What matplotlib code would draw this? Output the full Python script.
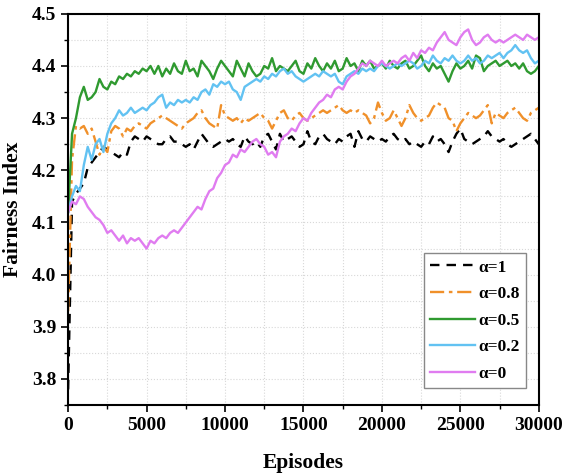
import numpy as np
import matplotlib
matplotlib.use('Agg')
import matplotlib.pyplot as plt
from matplotlib.ticker import MultipleLocator

# episodes, sampled every 250
episodes = np.arange(0, 30001, 250)

alpha_1 = [3.78, 4.14, 4.155, 4.165, 4.175, 4.205, 4.215, 4.225, 4.235, 4.245,
           4.24, 4.235, 4.23, 4.225, 4.235, 4.23, 4.255, 4.265, 4.26, 4.255,
           4.265, 4.26, 4.255, 4.25, 4.25, 4.26, 4.265, 4.255, 4.255, 4.25,
           4.245, 4.25, 4.24, 4.255, 4.27, 4.26, 4.25, 4.245, 4.25, 4.255,
           4.26, 4.255, 4.26, 4.25, 4.245, 4.265, 4.255, 4.25, 4.255, 4.245,
           4.265, 4.27, 4.255, 4.24, 4.27, 4.255, 4.26, 4.265, 4.255, 4.245,
           4.25, 4.275, 4.255, 4.25, 4.265, 4.27, 4.26, 4.255, 4.25, 4.26,
           4.255, 4.265, 4.27, 4.245, 4.275, 4.26, 4.255, 4.265, 4.26, 4.255,
           4.26, 4.255, 4.265, 4.27, 4.26, 4.255, 4.26, 4.25, 4.255, 4.25,
           4.245, 4.255, 4.25, 4.265, 4.255, 4.26, 4.25, 4.235, 4.255, 4.27,
           4.28, 4.26, 4.255, 4.25, 4.255, 4.26, 4.265, 4.275, 4.265, 4.26,
           4.255, 4.26, 4.25, 4.245, 4.25, 4.255, 4.26, 4.265, 4.27, 4.26,
           4.25]

alpha_08 = [3.93, 4.22, 4.285, 4.28, 4.285, 4.27, 4.28, 4.255, 4.23, 4.245,
            4.235, 4.275, 4.285, 4.28, 4.265, 4.28, 4.275, 4.285, 4.29, 4.285,
            4.28, 4.29, 4.295, 4.30, 4.305, 4.30, 4.295, 4.29, 4.285, 4.28,
            4.29, 4.295, 4.30, 4.31, 4.315, 4.30, 4.29, 4.285, 4.28, 4.325,
            4.305, 4.30, 4.295, 4.30, 4.29, 4.30, 4.295, 4.30, 4.305, 4.31,
            4.30, 4.295, 4.28, 4.295, 4.31, 4.315, 4.30, 4.295, 4.305, 4.31,
            4.30, 4.295, 4.30, 4.305, 4.31, 4.315, 4.31, 4.315, 4.32, 4.325,
            4.315, 4.31, 4.315, 4.31, 4.315, 4.31, 4.305, 4.29, 4.30, 4.33,
            4.31, 4.295, 4.30, 4.315, 4.30, 4.285, 4.30, 4.325, 4.31, 4.30,
            4.295, 4.30, 4.305, 4.32, 4.33, 4.325, 4.32, 4.30, 4.295, 4.275,
            4.29, 4.30, 4.31, 4.305, 4.30, 4.305, 4.315, 4.325, 4.29, 4.31,
            4.305, 4.30, 4.31, 4.315, 4.32, 4.31, 4.30, 4.295, 4.31, 4.315,
            4.32]

alpha_05 = [4.12, 4.27, 4.30, 4.34, 4.36, 4.335, 4.34, 4.35, 4.375, 4.36,
            4.355, 4.37, 4.365, 4.38, 4.375, 4.385, 4.38, 4.39, 4.385, 4.395,
            4.39, 4.40, 4.385, 4.40, 4.38, 4.395, 4.385, 4.405, 4.39, 4.385,
            4.41, 4.39, 4.395, 4.38, 4.41, 4.40, 4.39, 4.375, 4.395, 4.41,
            4.40, 4.39, 4.38, 4.41, 4.395, 4.38, 4.405, 4.39, 4.38, 4.385,
            4.40, 4.395, 4.415, 4.39, 4.40, 4.395, 4.39, 4.40, 4.41, 4.39,
            4.385, 4.405, 4.395, 4.415, 4.40, 4.39, 4.405, 4.395, 4.41, 4.39,
            4.395, 4.415, 4.40, 4.405, 4.39, 4.41, 4.40, 4.41, 4.395, 4.40,
            4.405, 4.395, 4.41, 4.40, 4.395, 4.405, 4.41, 4.395, 4.40, 4.41,
            4.42, 4.40, 4.39, 4.405, 4.395, 4.40, 4.385, 4.37, 4.39, 4.405,
            4.395, 4.40, 4.41, 4.395, 4.42, 4.415, 4.39, 4.40, 4.405, 4.41,
            4.40, 4.405, 4.41, 4.40, 4.405, 4.395, 4.405, 4.39, 4.385, 4.39,
            4.40]

alpha_02 = [4.12, 4.15, 4.17, 4.16, 4.21, 4.245, 4.22, 4.25, 4.26, 4.235,
            4.27, 4.29, 4.30, 4.315, 4.305, 4.31, 4.32, 4.31, 4.315, 4.32,
            4.315, 4.325, 4.33, 4.34, 4.345, 4.32, 4.33, 4.325, 4.335, 4.33,
            4.335, 4.33, 4.34, 4.335, 4.35, 4.355, 4.345, 4.365, 4.36, 4.37,
            4.365, 4.37, 4.355, 4.35, 4.335, 4.36, 4.365, 4.37, 4.375, 4.37,
            4.38, 4.375, 4.385, 4.38, 4.39, 4.395, 4.385, 4.39, 4.38, 4.375,
            4.37, 4.375, 4.38, 4.385, 4.38, 4.39, 4.385, 4.38, 4.385, 4.37,
            4.365, 4.38, 4.385, 4.39, 4.385, 4.395, 4.39, 4.395, 4.39, 4.40,
            4.405, 4.40, 4.395, 4.40, 4.405, 4.40, 4.405, 4.41, 4.405, 4.395,
            4.40, 4.41, 4.405, 4.42, 4.41, 4.405, 4.415, 4.41, 4.42, 4.41,
            4.405, 4.41, 4.42, 4.41, 4.415, 4.405, 4.41, 4.42, 4.415, 4.42,
            4.425, 4.415, 4.425, 4.43, 4.44, 4.43, 4.425, 4.43, 4.415, 4.405,
            4.41]

alpha_0 = [4.12, 4.14, 4.135, 4.15, 4.145, 4.13, 4.12, 4.11, 4.105, 4.095,
           4.08, 4.085, 4.075, 4.065, 4.075, 4.06, 4.07, 4.065, 4.07, 4.06,
           4.05, 4.065, 4.06, 4.07, 4.075, 4.07, 4.08, 4.085, 4.08, 4.09,
           4.10, 4.11, 4.12, 4.13, 4.125, 4.145, 4.16, 4.165, 4.185, 4.195,
           4.21, 4.215, 4.23, 4.225, 4.24, 4.235, 4.245, 4.255, 4.26, 4.25,
           4.245, 4.23, 4.235, 4.225, 4.255, 4.265, 4.27, 4.28, 4.275, 4.29,
           4.30, 4.295, 4.31, 4.32, 4.33, 4.335, 4.345, 4.34, 4.355, 4.36,
           4.355, 4.37, 4.38, 4.385, 4.395, 4.405, 4.40, 4.41, 4.405, 4.40,
           4.41, 4.40, 4.405, 4.41, 4.405, 4.415, 4.42, 4.41, 4.425, 4.415,
           4.43, 4.425, 4.435, 4.43, 4.445, 4.455, 4.465, 4.45, 4.445, 4.44,
           4.455, 4.465, 4.47, 4.45, 4.44, 4.445, 4.455, 4.46, 4.45, 4.445,
           4.45, 4.445, 4.45, 4.455, 4.46, 4.455, 4.45, 4.46, 4.455, 4.45,
           4.455]

labels = ['α=1', 'α=0.8', 'α=0.5', 'α=0.2', 'α=0']

plt.rcParams['font.family'] = ['Liberation Serif', 'DejaVu Serif']
plt.rcParams['font.weight'] = 'bold'

fig = plt.figure(figsize=(5.63, 4.76), dpi=100)
ax = fig.add_axes([0.121, 0.149, 0.836, 0.822])

ax.plot(episodes, alpha_1, color='black', lw=1.7, ls=(0, (4, 3)), label=labels[0])
ax.plot(episodes, alpha_08, color='#F0902A', lw=1.7, ls=(0, (6, 2, 1.5, 2)), label=labels[1])
ax.plot(episodes, alpha_05, color='#2F9A30', lw=1.7, label=labels[2])
ax.plot(episodes, alpha_02, color='#62C2F2', lw=1.7, label=labels[3])
ax.plot(episodes, alpha_0, color='#E07CF0', lw=1.7, label=labels[4])

ax.set_xlim(0, 30000)
ax.set_ylim(3.75, 4.5)
ax.xaxis.set_major_locator(MultipleLocator(5000))
ax.xaxis.set_minor_locator(MultipleLocator(2500))
ax.yaxis.set_major_locator(MultipleLocator(0.1))
ax.yaxis.set_minor_locator(MultipleLocator(0.05))
ax.yaxis.set_major_formatter(plt.FormatStrFormatter('%.1f'))

ax.grid(True, which='both', color='#d8d8d8', ls=':', lw=0.8)
ax.tick_params(which='major', direction='out', length=5, width=1.2, labelsize=14)
ax.tick_params(which='minor', direction='out', length=3, width=1)
for s in ax.spines.values():
    s.set_linewidth(1.5)

ax.set_xlabel('Episodes', fontsize=15.5, fontweight='bold', labelpad=14)
ax.set_ylabel('Fairness Index', fontsize=15.5, fontweight='bold', labelpad=6)

leg = ax.legend(loc='lower right', bbox_to_anchor=(0.98, 0.035), fontsize=12.5,
                handlelength=2.6, handletextpad=0.2, labelspacing=0.6,
                fancybox=False, borderpad=0.35, borderaxespad=0.2, framealpha=1)
leg.get_frame().set_edgecolor('#888888')
leg.get_frame().set_linewidth(1.0)

fig.savefig('out.png', dpi=100)
